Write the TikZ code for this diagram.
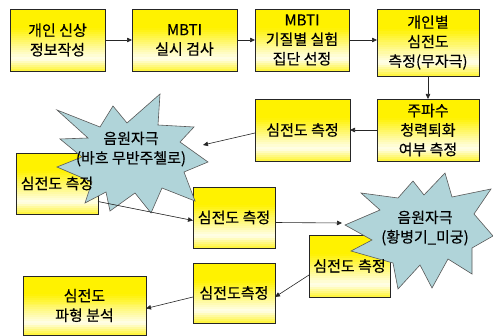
\documentclass[tikz,border=0pt]{standalone}
\usepackage{fontspec}
\setmainfont{Noto Sans CJK KR}[FakeBold=0.4]
\usetikzlibrary{arrows.meta,calc,backgrounds}
\definecolor{starblue}{RGB}{176,212,217}
\tikzset{
  box/.style={draw=black!85, line width=0.6pt, inner sep=0pt, outer sep=0pt, align=center,
    font=\fontsize{15}{19.5}\selectfont},
  lbl/.style={inner sep=0pt, align=center, font=\fontsize{15}{19.5}\selectfont},
  star/.style={draw=black!65, line width=0.6pt, fill=starblue, line join=miter},
  arr/.style={draw=black!85, line width=0.6pt, -{Triangle[length=5pt,width=4.5pt]}}
}
\begin{document}
\begin{tikzpicture}[x=1pt,y=-1pt]
\useasboundingbox (0,0) rectangle (493,336);
% row 1
\node[box, minimum width=95pt, minimum height=62pt] (b1) at (57.5,40) {개인 신상\\정보작성};
\node[box, minimum width=105pt, minimum height=62pt] (b2) at (184.5,40) {MBTI\\실시 검사};
\node[box, minimum width=94pt, minimum height=62pt] (b3) at (302,40) {MBTI\\기질별 실험\\집단 선정};
\node[box, minimum width=102pt, minimum height=67pt] (b4) at (428,42.5) {개인별\\심전도\\측정(무자극)};
% row 2
\node[box, minimum width=102pt, minimum height=62pt] (b5) at (428,130) {주파수\\청력퇴화\\여부 측정};
\node[box, minimum width=95pt, minimum height=62pt] (b6) at (302.5,130) {심전도 측정};
% row 3
\node[box, minimum width=82pt, minimum height=61pt] (b7) at (57,183.5) {};
\node[box, minimum width=82pt, minimum height=61pt] (b8) at (234,217.5) {심전도 측정};
% row 4
\node[box, minimum width=81pt, minimum height=62pt] (b9) at (349.5,266) {};
\node[box, minimum width=82pt, minimum height=60pt] (b10) at (234,293) {심전도측정};
\node[box, minimum width=123pt, minimum height=59pt] (b11) at (84.5,305.5) {심전도\\파형 분석};
% gradient fills behind the boxes
\begin{scope}[on background layer]
\foreach \b in {b1,b2,b3,b4,b5,b6,b7,b8,b9,b10,b11}{
  \foreach \i in {0,...,29}{
    \pgfmathsetmacro{\gt}{(\i+0.5)/30}
    \pgfmathsetmacro{\pc}{\gt<0.3 ? 100 : (\gt<0.8 ? 100-92*(\gt-0.3)/0.5 : 8+72*(\gt-0.8)/0.2)}
    \pgfmathsetmacro{\fa}{\i/30}
    \pgfmathsetmacro{\fb}{min(1,(\i+1.1)/30)}
    \fill[yellow!\pc] ($(\b.north west)!\fa!(\b.south west)$)
      rectangle ($(\b.north east)!\fb!(\b.south east)$);
  }
}
\end{scope}
% starburst 1
\path[star] (57,110) -- (100,127) -- (113,106) -- (127,123) -- (160,94) -- (158,125)
  -- (194,127) -- (180,142) -- (208,162) -- (184,172) -- (195,201) -- (162,188)
  -- (151,213) -- (135,193) -- (110,211) -- (106,192) -- (85,203) -- (92,182)
  -- (57,167) -- (82,157) -- (60,139) -- (88,138) -- cycle;
\node[lbl] (s1) at (131,149) {음원자극\\(바흐 무반주첼로)};
\coordinate (s1in) at (203,145);
% starburst 2
\path[star] (345,225) -- (380,210) -- (361,193) -- (398,198) -- (413,181) -- (424,195)
  -- (445,173) -- (452,197) -- (491,189) -- (474,214) -- (493,236) -- (472,248)
  -- (472,274) -- (448,259) -- (432,288) -- (420,265) -- (398,289) -- (393,263)
  -- (351,251) -- (372,240) -- cycle;
\node[lbl] (s2) at (425,228) {음원자극\\(황병기\_미궁)};
\coordinate (s2in) at (342,223);
% texts over starbursts
\node[lbl] (t7) at (b7) {심전도 측정};
\node[lbl] (t9) at (b9) {심전도 측정};
% connectors
\draw[arr] (b1.east) -- (b2.west);
\draw[arr] (b2.east) -- (b3.west);
\draw[arr] (b3.east) -- (b3.east -| b4.west);
\draw[arr] (b4.south) -- (b5.north);
\draw[arr] (b5.west) -- (b6.east);
\draw[arr] ([yshift=-3pt]b6.west) -- (s1in);
\draw[arr] ([yshift=-18pt]b7.east) -- ([yshift=-3pt]b8.west);
\draw[arr] ([yshift=-5pt]b8.east) -- (s2in);
\draw[arr] ([yshift=-9pt]b9.west) -- ([yshift=-4pt]b10.east);
\draw[arr] ([yshift=-4pt]b10.west) -- ([yshift=-3pt]b11.east);
\end{tikzpicture}
\end{document}
